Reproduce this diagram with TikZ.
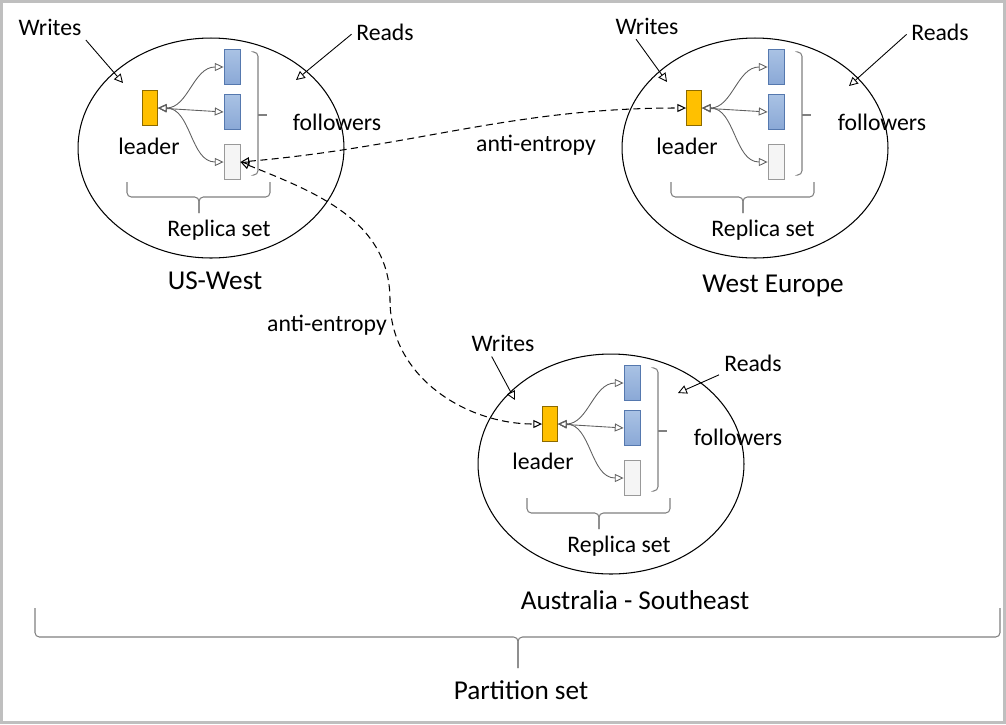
\documentclass[tikz,border=0pt]{standalone}
\usepackage{fontspec}
\setmainfont{Carlito}
\usetikzlibrary{shapes.geometric, arrows.meta}
\definecolor{gold}{HTML}{FFC000}
\definecolor{golddraw}{HTML}{8C6A00}
\definecolor{bluetop}{HTML}{A9C2E4}
\definecolor{bluebottom}{HTML}{8AA8D6}
\definecolor{bluedraw}{HTML}{5578AE}
\tikzset{
  region/.style={
    ellipse, draw=black, line width=0.6pt,
    minimum width=5.32cm, minimum height=4.4cm, inner sep=0pt
  },
  leader/.style={
    rectangle, draw=golddraw, fill=gold, line width=0.5pt,
    minimum width=0.3cm, minimum height=0.7cm, inner sep=0pt
  },
  follower/.style={
    rectangle, draw=bluedraw, top color=bluetop, bottom color=bluebottom, line width=0.5pt,
    minimum width=0.32cm, minimum height=0.7cm, inner sep=0pt
  },
  standby/.style={
    rectangle, draw=gray!80, fill=gray!8, line width=0.5pt,
    minimum width=0.32cm, minimum height=0.7cm, inner sep=0pt
  },
  replicate/.style={
    {Triangle[open,length=5pt,width=4.6pt]}-{Triangle[open,length=5pt,width=4.6pt]},
    draw=gray!75!black, line width=0.5pt
  },
  antientropy/.style={
    {Triangle[open,length=5pt,width=4.6pt]}-{Triangle[open,length=5pt,width=4.6pt]},
    dash pattern=on 4pt off 2.5pt, line width=0.6pt
  },
  access/.style={
    -{Triangle[open,length=5pt,width=5pt]}, line width=0.5pt, shorten <=2pt
  },
  bracket/.style={draw=gray, rounded corners=2.5pt, line width=0.6pt},
  frame/.style={draw=gray!50, line width=0.06cm},
  title/.style={font=\fontsize{15.5}{18}\selectfont}
}

\begin{document}
\begin{tikzpicture}[x=0.02cm, y=0.02cm, every node/.style={font=\fontsize{13.5}{16}\selectfont, inner sep=1pt}]
  \useasboundingbox (0,0) rectangle (1006,-724);
  % Frame
  \draw[frame] (1.5,-1.5) rectangle (1004.5,-722.5);

  % US-West
  \begin{scope}[shift={(211,-148)}]
    \node[region] (uw) at (0,0) {};
    \node[leader] (uwL) at (-61,40) {};
    \node[follower] (uwF1) at (21,81) {};
    \node[follower] (uwF2) at (21,36) {};
    \node[standby] (uwF3) at (21,-14) {};
    \draw[replicate] (uwL.east) to[out=0,in=180] (uwF1.west);
    \draw[replicate] (uwL.east) -- (uwF2.west);
    \draw[replicate] (uwL.east) to[out=0,in=180] (uwF3.west);
    \draw[bracket] (43,96) -- (47,96) -- (47,-27) -- (43,-27);
    \draw[bracket] (47,33) -- (56,33);
    \node (uwFt) at (126,26) {followers};
    \node (uwLt) at (-62,2) {leader};
    \draw[bracket] (-84,-34) -- (-84,-49) -- (-12,-49) -- (-12,-65);
    \draw[bracket] (59,-34) -- (59,-49) -- (-12,-49) -- (-12,-65);
    \node (uwRs) at (8,-82) {Replica set};
    \node[title] (uwT) at (4,-133) {US-West};
    \node (uwW) at (-161,121) {Writes};
    \coordinate (uwWin) at (-88,65);
    \draw[access] (uwW.south east) -- (uwWin);
    \node (uwR) at (174,116) {Reads};
    \coordinate (uwRin) at (85,68);
    \draw[access] (uwR.west) -- (uwRin);
  \end{scope}

  % West Europe
  \begin{scope}[shift={(755,-148)}]
    \node[region] (we) at (0,0) {};
    \node[leader] (weL) at (-61,40) {};
    \node[follower] (weF1) at (21,81) {};
    \node[follower] (weF2) at (21,36) {};
    \node[standby] (weF3) at (21,-14) {};
    \draw[replicate] (weL.east) to[out=0,in=180] (weF1.west);
    \draw[replicate] (weL.east) -- (weF2.west);
    \draw[replicate] (weL.east) to[out=0,in=180] (weF3.west);
    \draw[bracket] (43,96) -- (47,96) -- (47,-27) -- (43,-27);
    \draw[bracket] (47,33) -- (56,33);
    \node (weFt) at (127,26) {followers};
    \node (weLt) at (-68,2) {leader};
    \draw[bracket] (-84,-34) -- (-84,-49) -- (-12,-49) -- (-12,-65);
    \draw[bracket] (59,-34) -- (59,-49) -- (-12,-49) -- (-12,-65);
    \node (weRs) at (8,-82) {Replica set};
    \node[title] (weT) at (18,-138) {West Europe};
    \node (weW) at (-108,122) {Writes};
    \coordinate (weWin) at (-88,66);
    \draw[access] ([xshift=-0.26cm]weW.south) -- (weWin);
    \node (weR) at (185,116) {Reads};
    \coordinate (weRin) at (94,62);
    \draw[access] (weR.west) -- (weRin);
  \end{scope}

  % Australia - Southeast
  \begin{scope}[shift={(611,-464)}]
    \node[region] (au) at (0,0) {};
    \node[leader] (auL) at (-61,40) {};
    \node[follower] (auF1) at (21,81) {};
    \node[follower] (auF2) at (21,36) {};
    \node[standby] (auF3) at (21,-14) {};
    \draw[replicate] (auL.east) to[out=0,in=180] (auF1.west);
    \draw[replicate] (auL.east) -- (auF2.west);
    \draw[replicate] (auL.east) to[out=0,in=180] (auF3.west);
    \draw[bracket] (43,96) -- (47,96) -- (47,-27) -- (43,-27);
    \draw[bracket] (47,33) -- (56,33);
    \node (auFt) at (127,27) {followers};
    \node (auLt) at (-68,3) {leader};
    \draw[bracket] (-84,-34) -- (-84,-49) -- (-12,-49) -- (-12,-65);
    \draw[bracket] (59,-34) -- (59,-49) -- (-12,-49) -- (-12,-65);
    \node (auRs) at (8,-82) {Replica set};
    \node[title] (auT) at (24,-136) {Australia - Southeast};
    \node (auW) at (-108,121) {Writes};
    \coordinate (auWin) at (-96,64);
    \draw[access] ([xshift=-0.26cm]auW.south) -- (auWin);
    \node (auR) at (142,101) {Reads};
    \coordinate (auRin) at (67,71);
    \draw[access] (auR.south west) -- (auRin);
  \end{scope}

  % Anti-entropy links
  \draw[antientropy] (uwF3.east) to[out=5,in=180] (weL.west);
  \node (ae1) at (536,-145) {anti-entropy};
  \coordinate (bend) at (390,-300);
  \draw[antientropy] (uwF3.east) to[out=-22,in=90] (bend) to[out=-90,in=180] (auL.west);
  \node (ae2) at (327,-325) {anti-entropy};

  % Partition set
  \draw[bracket] (35,-608) -- (35,-637) -- (518,-637) -- (518,-668);
  \draw[bracket] (1000,-608) -- (1000,-637) -- (518,-637) -- (518,-668);
  \node[title] (ps) at (521,-690) {Partition set};
\end{tikzpicture}
\end{document}
